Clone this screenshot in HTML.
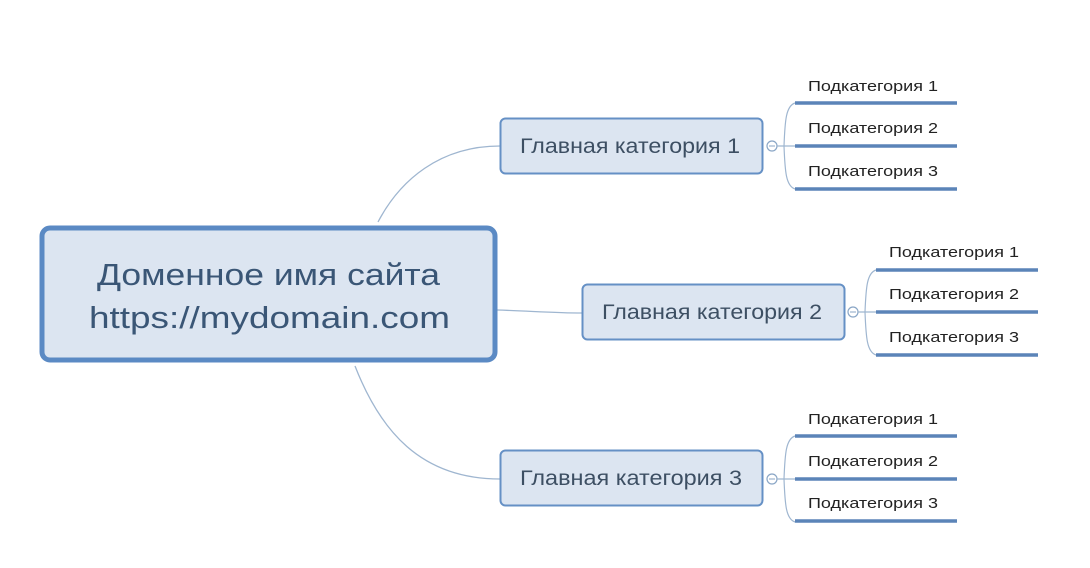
<!DOCTYPE html>
<html><head><meta charset="utf-8"><style>
html,body{margin:0;padding:0;background:#fff;width:1090px;height:568px;overflow:hidden}
svg{display:block}
text{font-family:"Liberation Sans","DejaVu Sans",sans-serif}
</style></head><body>
<svg width="1090" height="568" viewBox="0 0 1090 568">
<g fill="none" stroke="#9fb6d0" stroke-width="1.3">
<path d="M378 222 C 400 180, 440 146, 500 146"/>
<path d="M497 310 C 530 311, 555 313, 582 313"/>
<path d="M355 366 C 380 430, 420 479, 500 479"/>
</g>
<rect x="42" y="228" width="453" height="132" rx="8" fill="#dce5f1" stroke="#5b8ac4" stroke-width="5"/>
<text x="97" y="285" textLength="343" lengthAdjust="spacingAndGlyphs" font-size="31" fill="#3a5676">Доменное имя сайта</text>
<text x="89" y="328" textLength="361" lengthAdjust="spacingAndGlyphs" font-size="31" fill="#3a5676">https://mydomain.com</text>

<g>
<rect x="500.5" y="118.5" width="262" height="55" rx="5" fill="#dce5f1" stroke="#6590c5" stroke-width="2"/>
<text x="520" y="153" textLength="220" lengthAdjust="spacingAndGlyphs" font-size="21" fill="#3d4f63">Главная категория 1</text>
<circle cx="772" cy="146" r="5" fill="#fff" stroke="#8aa6c6" stroke-width="1.2"/>
<line x1="769" y1="146" x2="775" y2="146" stroke="#8aa6c6"/>
<path d="M777 146 H795 M795 103 C 786 106, 785 120, 784 146 C 785 172, 786 186, 795 189" fill="none" stroke="#9fb6d0" stroke-width="1.2"/>
<g stroke="#5b84b8" stroke-width="3.5"><line x1="795" y1="103" x2="957" y2="103"/><line x1="795" y1="146" x2="957" y2="146"/><line x1="795" y1="189" x2="957" y2="189"/></g>
<g font-size="15" fill="#222"><text x="808" y="91" textLength="130" lengthAdjust="spacingAndGlyphs">Подкатегория 1</text><text x="808" y="133" textLength="130" lengthAdjust="spacingAndGlyphs">Подкатегория 2</text><text x="808" y="176" textLength="130" lengthAdjust="spacingAndGlyphs">Подкатегория 3</text></g>
</g>

<g>
<rect x="582.5" y="284.5" width="262" height="55" rx="5" fill="#dce5f1" stroke="#6590c5" stroke-width="2"/>
<text x="602" y="319" textLength="220" lengthAdjust="spacingAndGlyphs" font-size="21" fill="#3d4f63">Главная категория 2</text>
<circle cx="853" cy="312" r="5" fill="#fff" stroke="#8aa6c6" stroke-width="1.2"/>
<line x1="850" y1="312" x2="856" y2="312" stroke="#8aa6c6"/>
<path d="M858 312 H876 M876 270 C 867 273, 866 287, 865 312 C 866 338, 867 352, 876 355" fill="none" stroke="#9fb6d0" stroke-width="1.2"/>
<g stroke="#5b84b8" stroke-width="3.5"><line x1="876" y1="270" x2="1038" y2="270"/><line x1="876" y1="312" x2="1038" y2="312"/><line x1="876" y1="355" x2="1038" y2="355"/></g>
<g font-size="15" fill="#222"><text x="889" y="257" textLength="130" lengthAdjust="spacingAndGlyphs">Подкатегория 1</text><text x="889" y="299" textLength="130" lengthAdjust="spacingAndGlyphs">Подкатегория 2</text><text x="889" y="342" textLength="130" lengthAdjust="spacingAndGlyphs">Подкатегория 3</text></g>
</g>

<g>
<rect x="500.5" y="450.5" width="262" height="55" rx="5" fill="#dce5f1" stroke="#6590c5" stroke-width="2"/>
<text x="520" y="485" textLength="222" lengthAdjust="spacingAndGlyphs" font-size="21" fill="#3d4f63">Главная категория 3</text>
<circle cx="772" cy="479" r="5" fill="#fff" stroke="#8aa6c6" stroke-width="1.2"/>
<line x1="769" y1="479" x2="775" y2="479" stroke="#8aa6c6"/>
<path d="M777 479 H795 M795 436 C 786 439, 785 453, 784 479 C 785 505, 786 519, 795 522" fill="none" stroke="#9fb6d0" stroke-width="1.2"/>
<g stroke="#5b84b8" stroke-width="3.5"><line x1="795" y1="436" x2="957" y2="436"/><line x1="795" y1="479" x2="957" y2="479"/><line x1="795" y1="521" x2="957" y2="521"/></g>
<g font-size="15" fill="#222"><text x="808" y="424" textLength="130" lengthAdjust="spacingAndGlyphs">Подкатегория 1</text><text x="808" y="466" textLength="130" lengthAdjust="spacingAndGlyphs">Подкатегория 2</text><text x="808" y="508" textLength="130" lengthAdjust="spacingAndGlyphs">Подкатегория 3</text></g>
</g>
</svg>
</body></html>
